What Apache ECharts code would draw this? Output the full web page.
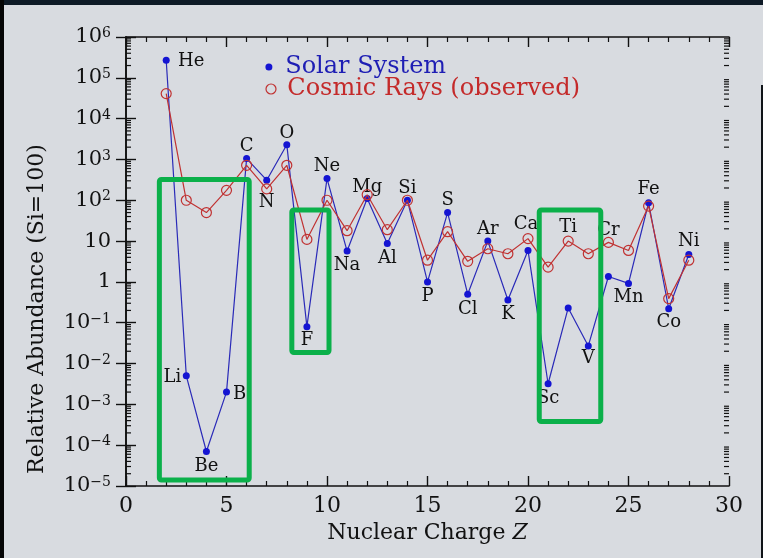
<!DOCTYPE html>
<html><head><meta charset="utf-8">
<script src="https://cdn.jsdelivr.net/npm/echarts@6/dist/echarts.min.js"></script>
<style>html,body{margin:0;padding:0;background:#d8dbe0;}#c{width:763px;height:558px;}</style>
</head><body><div id="c"></div>
<script>
// ---- data ----
const elements = ['He','Li','Be','B','C','N','O','F','Ne','Na','Mg','Al','Si','P','S','Cl','Ar','K','Ca','Sc','Ti','V','Cr','Mn','Fe','Co','Ni'];
const nuclearCharge = [2,3,4,5,6,7,8,9,10,11,12,13,14,15,16,17,18,19,20,21,22,23,24,25,26,27,28];
const solarSystem = [2.7e5, 5e-3, 7e-5, 2e-3, 1050, 310, 2300, 0.08, 340, 5.7, 110, 8.7, 100, 1.0, 50, 0.5, 10, 0.36, 5.9, 3.2e-3, 0.23, 0.027, 1.36, 0.92, 87, 0.22, 4.7];
const cosmicRays = [4.1e4, 100, 50, 175, 720, 190, 720, 11, 100, 18, 137, 19, 100, 3.4, 17, 3.2, 6.5, 4.9, 11.5, 2.3, 10, 4.9, 9.3, 5.9, 72, 0.39, 3.4];
const xRange = [0, 30];
const yRange = [1e-5, 1e6];
// highlight boxes: [Z1, value1, Z2, value2]
const highlightBoxes = [[1.66, 324, 6.13, 1.4e-5], [8.25, 58, 10.1, 0.0186], [20.56, 58, 23.62, 3.8e-4]];
const seriesNames = ['Solar System', 'Cosmic Rays (observed)'];

// ---- styling (label placement) ----
const labelOnCosmic = {Ca: true, Ti: true, Cr: true};
const labelOffset = {He:[25,1], Li:[-14,1], Be:[0,15], B:[13,2], C:[0,-12], N:[0,22], O:[0,-11], F:[0,14], Ne:[0,-12], Na:[0,14],
  Mg:[0,-11], Al:[0,15], Si:[0,-12], P:[0,14], S:[0,-12], Cl:[0,15], Ar:[0,-12], K:[0,14], Ca:[-2,-14], Sc:[0,15], Ti:[0,-14],
  V:[0,12], Cr:[0,-12], Mn:[0,14], Fe:[0,-13], Co:[0,14], Ni:[0,-13]};

const SERIF = 'DejaVu Serif';
const INK = '#111';
const BLUE = '#1414d2', RED = '#c03232', GREEN = '#0bb04a';

function lbl(name) {
  return {show: true, position: 'inside', offset: labelOffset[name], formatter: name,
          fontFamily: SERIF, fontSize: 18, color: INK};
}
const solarData = nuclearCharge.map((z, i) => {
  const it = {value: [z, solarSystem[i]]};
  if (!labelOnCosmic[elements[i]]) it.label = lbl(elements[i]);
  return it;
});
const cosmicData = nuclearCharge.map((z, i) => {
  const it = {value: [z, cosmicRays[i]]};
  if (labelOnCosmic[elements[i]]) it.label = lbl(elements[i]);
  return it;
});
// log minor ticks (axis decoration)
const minorTickVals = [];
for (let e = -5; e < 6; e++) for (let m = 2; m <= 9; m++) minorTickVals.push([0, m * Math.pow(10, e)]);

function yLabel(v) {
  const e = Math.round(Math.log10(v));
  if (e === 0) return '{b|1}';
  if (e === 1) return '{b|10}';
  return '{b|10}{s|' + (e < 0 ? '−' + (-e) : e) + '}';
}

const axisLineStyle = {color: INK, width: 1.6};
const chart = echarts.init(document.getElementById('c'), null, {renderer: 'canvas'});
chart.setOption({
  animation: false,
  backgroundColor: '#d8dbe0',
  grid: {left: 126, top: 37, right: 34, bottom: 72},
  legend: [
    {data: [{name: seriesNames[0], icon: 'circle', itemStyle: {color: BLUE}, textStyle: {color: '#1e1eb4'}}],
     left: 265.4, top: 55, itemWidth: 22.6, itemHeight: 7, padding: 0, selectedMode: false,
     textStyle: {fontFamily: SERIF, fontSize: 24, lineHeight: 24}},
    {data: [{name: seriesNames[1], icon: 'circle', itemStyle: {color: 'rgba(0,0,0,0)', borderColor: RED, borderWidth: 1.2}, textStyle: {color: '#c42a2a'}}],
     left: 265.4, top: 77, itemWidth: 22.6, itemHeight: 10, padding: 0, selectedMode: false,
     textStyle: {fontFamily: SERIF, fontSize: 24, lineHeight: 24}}
  ],
  xAxis: [
    {type: 'value', min: xRange[0], max: xRange[1], interval: 5, position: 'bottom',
     axisLine: {lineStyle: axisLineStyle}, axisTick: {inside: true, length: 10, lineStyle: {color: INK, width: 1.4}},
     minorTick: {show: true, splitNumber: 5, length: 5, lineStyle: {color: INK, width: 1.2}},
     splitLine: {show: false},
     axisLabel: {fontFamily: SERIF, fontSize: 22, color: INK, margin: 9},
     name: 'Nuclear Charge {i|Z}', nameLocation: 'middle', nameGap: 35,
     nameTextStyle: {fontFamily: SERIF, fontSize: 22, color: INK, rich: {i: {fontFamily: SERIF, fontSize: 22, fontStyle: 'italic', color: INK}}}},
    {type: 'value', min: xRange[0], max: xRange[1], interval: 5, position: 'top',
     axisLine: {lineStyle: axisLineStyle}, axisTick: {inside: true, length: 10, lineStyle: {color: INK, width: 1.4}},
     minorTick: {show: true, splitNumber: 5, length: 5, lineStyle: {color: INK, width: 1.2}},
     splitLine: {show: false}, axisLabel: {show: false}}
  ],
  yAxis: [
    {type: 'log', logBase: 10, min: yRange[0], max: yRange[1], interval: 1, position: 'left',
     axisLine: {lineStyle: axisLineStyle}, axisTick: {inside: true, length: 10, lineStyle: {color: INK, width: 1.4}},
     splitLine: {show: false},
     axisLabel: {formatter: yLabel, margin: 15, color: INK,
       rich: {b: {fontFamily: SERIF, fontSize: 21, lineHeight: 21, color: INK, verticalAlign: 'middle'},
              s: {fontFamily: SERIF, fontSize: 14, lineHeight: 10, color: INK, verticalAlign: 'top'}}}},
    {type: 'log', logBase: 10, min: yRange[0], max: yRange[1], interval: 1, position: 'right',
     axisLine: {lineStyle: axisLineStyle}, axisTick: {inside: true, length: 10, lineStyle: {color: INK, width: 1.4}},
     splitLine: {show: false}, axisLabel: {show: false}}
  ],
  graphic: [
    {type: 'rect', shape: {x: 0, y: 0, width: 763, height: 5}, style: {fill: '#0e1a26'}, silent: true},
    {type: 'rect', shape: {x: 0, y: 0, width: 4, height: 558}, style: {fill: '#050505'}, silent: true},
    {type: 'rect', shape: {x: 761, y: 85, width: 2, height: 473}, style: {fill: '#101418'}, silent: true},
    {type: 'text', x: 37, y: 309, rotation: Math.PI / 2,
     style: {text: 'Relative Abundance (Si=100)', font: '22px "DejaVu Serif"', fill: INK, textAlign: 'center', textVerticalAlign: 'middle'}}
  ],
  series: [
    {type: 'custom', name: 'minorTicks', silent: true, z: 1, clip: false,
     data: minorTickVals, encode: {x: 0, y: 1},
     renderItem: function (params, api) {
       const v = api.value(1);
       const p = api.coord([xRange[0], v]);
       const q = api.coord([xRange[1], v]);
       return {type: 'group', children: [
         {type: 'line', shape: {x1: p[0], y1: p[1], x2: p[0] + 5, y2: p[1]}, style: {stroke: INK, lineWidth: 1.2}},
         {type: 'line', shape: {x1: q[0] - 5, y1: q[1], x2: q[0], y2: q[1]}, style: {stroke: INK, lineWidth: 1.2}}
       ]};
     }},
    {type: 'line', name: seriesNames[0], data: solarData, z: 3,
     symbol: 'circle', symbolSize: 7, itemStyle: {color: BLUE},
     lineStyle: {color: '#2a2ab8', width: 1.2}},
    {type: 'line', name: seriesNames[1], data: cosmicData, z: 4,
     symbol: 'circle', symbolSize: 10,
     itemStyle: {color: 'rgba(0,0,0,0)', borderColor: RED, borderWidth: 1.2},
     lineStyle: {color: RED, width: 1.2}},
    {type: 'custom', name: 'boxes', silent: true, z: 10, clip: false,
     data: highlightBoxes, encode: {x: [0, 2], y: [1, 3]},
     renderItem: function (params, api) {
       const a = api.coord([api.value(0), api.value(1)]);
       const b = api.coord([api.value(2), api.value(3)]);
       return {type: 'rect',
         shape: {x: Math.min(a[0], b[0]), y: Math.min(a[1], b[1]), width: Math.abs(b[0] - a[0]), height: Math.abs(b[1] - a[1]), r: 2},
         style: {fill: 'none', stroke: GREEN, lineWidth: 5, lineJoin: 'round'}};
     }}
  ]
});
</script></body></html>
